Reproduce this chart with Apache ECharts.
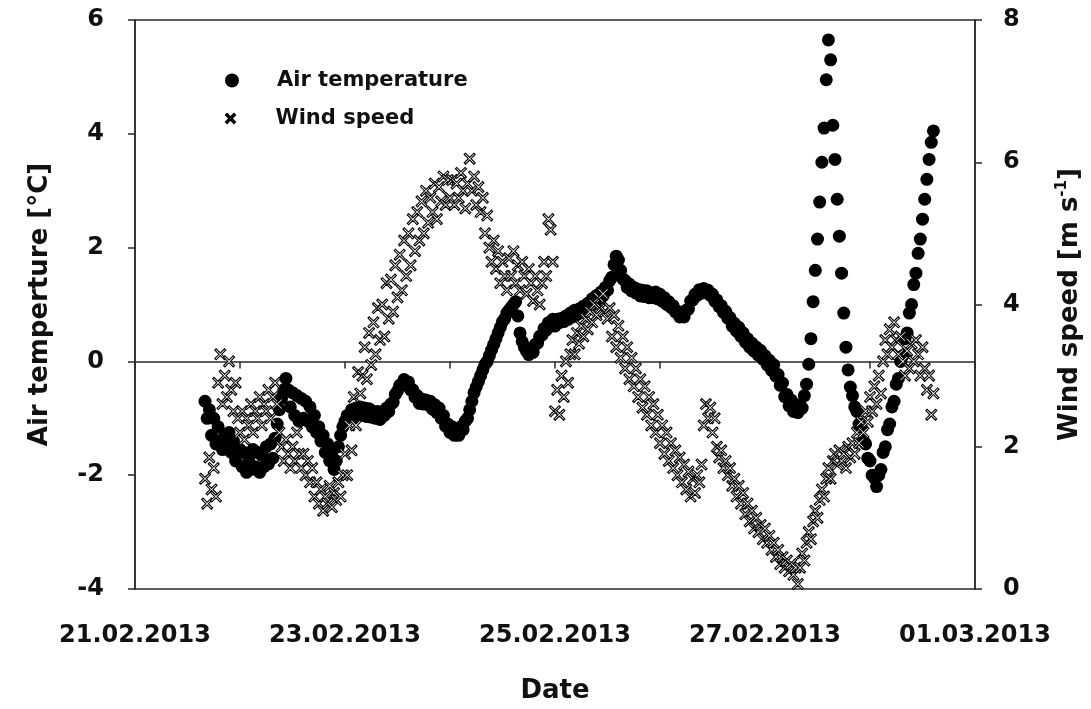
<!DOCTYPE html>
<html>
<head>
<meta charset="utf-8">
<script src="https://cdn.jsdelivr.net/npm/echarts@6/dist/echarts.min.js"></script>
<style>
  html, body { margin: 0; padding: 0; background: #fff; }
  #chart { width: 1091px; height: 709px; }
</style>
</head>
<body>
<div id="chart"></div>
<script>
// Tick labels of the date axis (one tick per day, a label every second day)
const dateLabels = ['21.02.2013', '', '23.02.2013', '', '25.02.2013', '', '27.02.2013', '', '01.03.2013'];

// Half-hourly record, first reading 21.02.2013 16:00
const firstHour = 16;      // hour of day of the first reading on 21.02
const stepHours = 0.5;     // sampling interval in hours

// Air temperature [°C], one array per day
const airTemp21 = [-0.7,-1.0,-0.85,-1.3,-1.0,-1.45,-1.15,-1.4,-1.55,-1.3,-1.45,-1.25,-1.6,-1.4,-1.75,-1.55];
const airTemp22 = [-1.55,-1.85,-1.6,-1.95,-1.7,-1.9,-1.55,-1.85, -1.6,-1.95,-1.65,-1.85,-1.5,-1.8,-1.45,-1.7,
                   -1.35,-1.1,-0.85,-0.65,-0.5,-0.3,-0.5,-0.8, -0.55,-0.95,-0.6,-1.05,-0.65,-1.0,-0.7,-1.05,
                   -0.8,-1.15,-0.95,-1.25,-1.15,-1.4,-1.3,-1.6, -1.45,-1.75,-1.6,-1.9,-1.75,-1.5,-1.3,-1.15];
const airTemp23 = [-1.05,-0.95,-1.0,-0.85,-0.98,-0.82,-0.95,-0.8, -0.95,-0.82,-0.97,-0.83,-0.98,-0.88,-1.0,-0.88,
                   -1.02,-0.9,-0.95,-0.82,-0.88,-0.75,-0.72,-0.58, -0.52,-0.42,-0.42,-0.32,-0.38,-0.36,-0.5,-0.5,
                   -0.63,-0.6,-0.74,-0.66,-0.75,-0.68,-0.76,-0.7, -0.84,-0.76,-0.9,-0.82,-1.0,-0.95,-1.14,-1.1];
const airTemp24 = [-1.25,-1.15,-1.3,-1.18,-1.3,-1.15,-1.2,-1.05, -1.0,-0.85,-0.7,-0.55,-0.45,-0.35,-0.25,-0.15,
                   -0.05,0.0,0.1,0.2,0.3,0.4,0.5,0.6, 0.7,0.75,0.85,0.9,0.95,1.0,1.05,0.8,
                   0.5,0.35,0.25,0.18,0.12,0.22,0.16,0.3, 0.32,0.44,0.46,0.58,0.55,0.68,0.62,0.74];
const airTemp25 = [0.62,0.74,0.68,0.76,0.7,0.8,0.74,0.85, 0.78,0.9,0.82,0.92,0.86,0.97,0.9,1.02,
                   0.95,1.1,1.02,1.16,1.1,1.22,1.15,1.3, 1.25,1.42,1.48,1.7,1.85,1.78,1.6,1.45,
                   1.42,1.3,1.36,1.24,1.3,1.2,1.27,1.15, 1.25,1.14,1.24,1.12,1.2,1.12,1.22,1.1];
const airTemp26 = [1.18,1.06,1.12,1.0,1.05,0.95,0.98,0.87, 0.88,0.78,0.84,0.78,0.9,0.92,1.06,1.08,
                   1.18,1.16,1.26,1.2,1.28,1.21,1.25,1.16, 1.18,1.06,1.08,0.96,0.98,0.86,0.88,0.76,
                   0.77,0.62,0.67,0.53,0.6,0.44,0.5,0.34, 0.4,0.25,0.32,0.18,0.25,0.11,0.19,0.04];
const airTemp27 = [0.1,-0.06,0.02,-0.16,-0.06,-0.26,-0.23,-0.42, -0.38,-0.62,-0.58,-0.78,-0.68,-0.88,-0.76,-0.9,
                   -0.76,-0.82,-0.6,-0.4,-0.05,0.4,1.05,1.6, 2.15,2.8,3.5,4.1,4.95,5.65,5.3,4.15,
                   3.55,2.85,2.2,1.55,0.85,0.25,-0.15,-0.45, -0.6,-0.8,-0.88,-1.1,-1.15,-1.4,-1.45,-1.7];
const airTemp28 = [-1.75,-2.0,-2.05,-2.2,-2.0,-1.9,-1.6,-1.5, -1.2,-1.1,-0.8,-0.7,-0.4,-0.3,0.0,0.1,
                   0.4,0.5,0.85,1.0,1.35,1.55,1.9,2.15, 2.5,2.85,3.2,3.55,3.85,4.05];

// Wind speed [m s-1], one array per day
const windSpeed21 = [1.55,1.2,1.85,1.4,1.7,1.3,2.9,3.3,2.6,3.0,2.7,3.2,2.8,2.5,2.9,2.4];
const windSpeed22 = [2.2,2.5,2.1,2.4,2.3,2.6,2.2,2.5, 2.4,2.7,2.3,2.6,2.5,2.8,2.4,2.7,
                     2.9,2.6,2.2,2.0,1.8,2.1,1.9,1.7, 2.0,1.8,2.2,1.9,1.7,1.9,1.6,1.8,
                     1.5,1.7,1.3,1.5,1.2,1.4,1.1,1.3, 1.2,1.45,1.15,1.35,1.25,1.5,1.3,1.6];
const windSpeed23 = [1.9,1.6,2.3,1.95,2.7,2.3,3.05,2.75, 3.0,3.4,2.95,3.6,3.15,3.75,3.3,3.95,
                     3.5,4.0,3.55,4.3,3.8,4.35,3.9,4.55, 4.1,4.7,4.2,4.9,4.4,5.0,4.55,5.2,
                     4.75,5.3,4.9,5.45,5.0,5.6,5.15,5.5, 5.3,5.7,5.2,5.65,5.45,5.8,5.4,5.75];
const windSpeed24 = [5.5,5.75,5.4,5.7,5.5,5.85,5.6,5.35, 5.7,6.05,5.6,5.8,5.4,5.65,5.3,5.5,
                     5.0,5.25,4.8,4.6,4.9,4.5,4.75,4.3, 4.6,4.4,4.2,4.65,4.4,4.75,4.3,4.55,
                     4.2,4.6,4.4,4.15,4.5,4.3,4.05,4.4, 4.2,4.0,4.3,4.6,4.4,5.2,5.05,4.6];
const windSpeed25 = [2.5,2.8,2.45,3.0,2.7,3.2,2.9,3.3, 3.5,3.3,3.6,3.45,3.7,3.55,3.8,3.65,
                     3.9,3.75,4.0,3.85,4.1,3.95,4.15,3.9, 3.8,3.95,3.55,3.85,3.4,3.7,3.25,3.55,
                     3.1,3.4,2.95,3.25,2.85,3.1,2.7,2.95, 2.55,2.85,2.45,2.7,2.3,2.6,2.2,2.45];
const windSpeed26 = [2.05,2.3,1.9,2.2,1.8,2.05,1.7,1.95, 1.6,1.85,1.5,1.75,1.4,1.65,1.3,1.55,
                     1.35,1.6,1.5,1.75,2.3,2.6,2.4,2.55, 2.2,2.4,2.0,1.85,1.95,1.7,1.8,1.6,
                     1.7,1.45,1.55,1.3,1.45,1.2,1.35,1.05, 1.2,0.95,1.1,0.85,1.0,0.8,0.9,0.7];
const windSpeed27 = [0.85,0.65,0.75,0.55,0.65,0.45,0.55,0.35, 0.45,0.3,0.4,0.25,0.35,0.2,0.3,0.07,
                     0.3,0.5,0.4,0.65,0.8,0.7,0.95,1.1, 1.0,1.25,1.4,1.3,1.55,1.7,1.55,1.8,
                     1.9,1.75,1.95,1.8,1.9,1.7,2.0,1.85, 2.05,1.9,2.2,2.05,2.35,2.2,2.5,2.35];
const windSpeed28 = [2.7,2.5,2.85,2.6,3.0,2.75,3.2,3.5, 3.3,3.65,3.4,3.75,3.5,3.3,3.55,3.2,
                     3.0,3.35,3.1,3.45,3.2,3.5,3.3,3.0, 3.4,3.1,2.8,3.0,2.45,2.75];

const airTemp = [].concat(airTemp21, airTemp22, airTemp23, airTemp24, airTemp25, airTemp26, airTemp27, airTemp28);
const windSpeed = [].concat(windSpeed21, windSpeed22, windSpeed23, windSpeed24, windSpeed25, windSpeed26, windSpeed27, windSpeed28);

// time of reading i in days since 21.02.2013 00:00
const dayOf = i => (firstHour + i * stepHours) / 24;
const toPairs = vals => vals.map((v, i) => [dayOf(i), v]);

const FONT = 'DejaVu Sans';
const INK = '#111';
const AXIS = '#2a2a2a';
// thin diagonal cross marker
const crossPath = 'path://M0,1.2L1.2,0L5,3.8L8.8,0L10,1.2L6.2,5L10,8.8L8.8,10L5,6.2L1.2,10L0,8.8L3.8,5Z';
const legendText = { fontFamily: FONT, fontWeight: 'bold', fontSize: 21, color: INK, padding: [0, 0, 0, 33] };

const chart = echarts.init(document.getElementById('chart'), null, { renderer: 'canvas' });
chart.setOption({
  animation: false,
  backgroundColor: '#fff',
  grid: { left: 135, right: 116, top: 20, bottom: 117, show: true, borderColor: AXIS, borderWidth: 1.5 },
  legend: [
    {
      orient: 'vertical', left: 220, top: 65, itemWidth: 14, itemHeight: 14,
      data: ['Air temperature'], textStyle: legendText
    },
    {
      orient: 'vertical', left: 220, top: 103, itemWidth: 14, itemHeight: 9,
      data: ['Wind speed'], textStyle: legendText
    }
  ],
  xAxis: {
    type: 'value', min: 0, max: 8, interval: 1,
    name: 'Date', nameLocation: 'middle', nameGap: 89,
    nameTextStyle: { fontFamily: FONT, fontWeight: 'bold', fontSize: 26, color: INK },
    axisLine: { lineStyle: { color: AXIS, width: 1.5 } },
    axisTick: { length: 7, lineStyle: { color: AXIS, width: 1.5 } },
    axisLabel: { formatter: v => dateLabels[Math.round(v)], fontFamily: FONT, fontWeight: 'bold', fontSize: 24, color: INK, margin: 35 },
    splitLine: { show: false }
  },
  yAxis: [
    {
      type: 'value', min: -4, max: 6, interval: 2, position: 'left',
      name: 'Air temperture [°C]', nameLocation: 'middle', nameGap: 82,
      nameTextStyle: { fontFamily: FONT, fontWeight: 'bold', fontSize: 26, color: INK },
      axisLine: { show: true, lineStyle: { color: AXIS, width: 1.5 } },
      axisTick: { show: true, length: 7, lineStyle: { color: AXIS, width: 1.5 } },
      axisLabel: { fontFamily: FONT, fontWeight: 'bold', fontSize: 24, color: INK, margin: 31 },
      splitLine: { show: false }
    },
    {
      type: 'value', min: 0, max: 8, interval: 2, position: 'right',
      name: '{a|Wind speed [m s}{b|-1}{a|]}', nameLocation: 'middle', nameGap: 80,
      nameTextStyle: {
        fontFamily: FONT, fontWeight: 'bold', fontSize: 26, color: INK,
        rich: {
          a: { fontFamily: FONT, fontWeight: 'bold', fontSize: 26, color: INK, lineHeight: 30 },
          b: { fontFamily: FONT, fontWeight: 'bold', fontSize: 15, color: INK, lineHeight: 15, verticalAlign: 'top' }
        }
      },
      axisLine: { show: true, lineStyle: { color: AXIS, width: 1.5 } },
      axisTick: { show: true, length: 7, lineStyle: { color: AXIS, width: 1.5 } },
      axisLabel: { fontFamily: FONT, fontWeight: 'bold', fontSize: 24, color: INK, margin: 28 },
      splitLine: { show: false }
    }
  ],
  series: [
    {
      name: 'Air temperature', type: 'scatter', yAxisIndex: 0,
      symbol: 'circle', symbolSize: 13,
      itemStyle: { color: '#000', opacity: 1 },
      emphasis: { disabled: true },
      data: toPairs(airTemp)
    },
    {
      name: 'Wind speed', type: 'scatter', yAxisIndex: 1,
      symbol: crossPath, symbolSize: 11,
      itemStyle: { color: '#fff', borderColor: '#000', borderWidth: 1.1, opacity: 1 },
      emphasis: { disabled: true },
      data: toPairs(windSpeed)
    }
  ]
});
</script>
</body>
</html>
